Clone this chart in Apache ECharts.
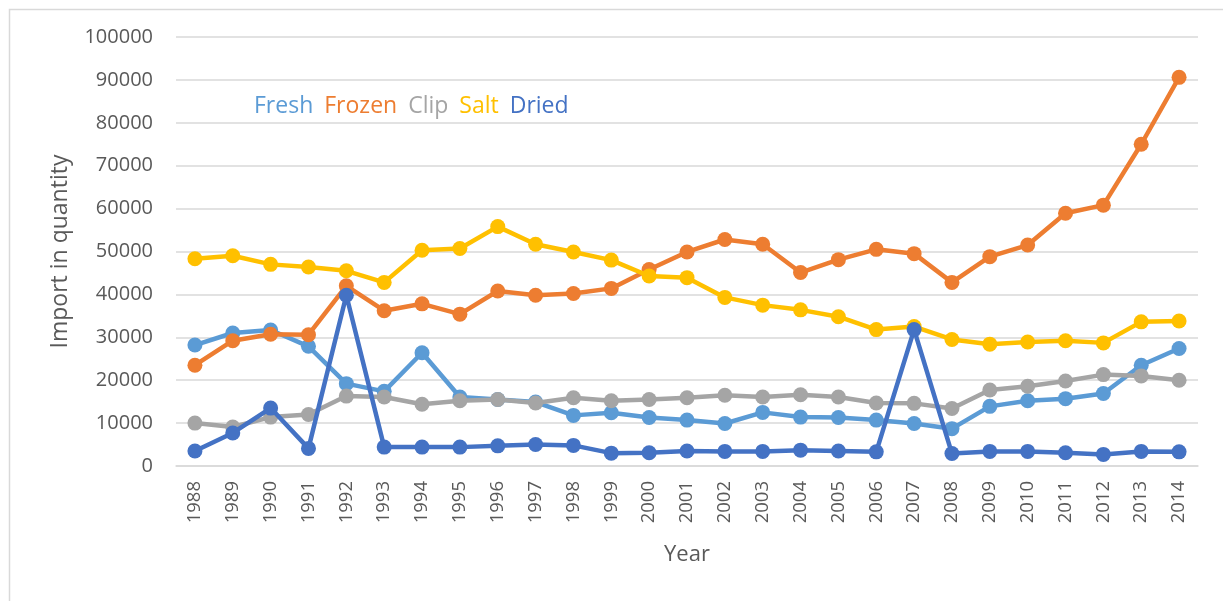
<!DOCTYPE html>
<html>
<head>
<meta charset="utf-8">
<script src="https://cdn.jsdelivr.net/npm/echarts@6/dist/echarts.min.js"></script>
<style>html,body{margin:0;padding:0;background:#fff;}#c{width:1223px;height:601px;}</style>
</head>
<body>
<div id="c"></div>
<script>
const years = ['1988','1989','1990','1991','1992','1993','1994','1995','1996','1997','1998','1999','2000','2001','2002','2003','2004','2005','2006','2007','2008','2009','2010','2011','2012','2013','2014'];
const fresh  = [28200,31000,31700,27900,19200,17400,26400,16100,15500,14900,11800,12400,11300,10700,9900,12500,11400,11300,10700,9900,8700,13900,15200,15700,16900,23500,27400];
const frozen = [23500,29200,30700,30600,42000,36200,37800,35400,40800,39800,40200,41400,45800,49900,52800,51700,45100,48100,50500,49500,42800,48800,51500,58900,60800,75000,90600];
const clip   = [10000,9100,11400,12000,16300,16100,14400,15200,15500,14700,15900,15200,15500,15900,16500,16100,16600,16100,14700,14600,13400,17700,18600,19800,21300,21000,20000];
const salt   = [48300,49000,47000,46400,45500,42800,50300,50700,55800,51700,49900,48000,44300,43900,39300,37500,36400,34800,31800,32500,29500,28400,28900,29200,28700,33600,33800];
const dried  = [3500,7700,13500,4100,39800,4400,4400,4400,4700,5000,4800,3000,3100,3500,3400,3400,3700,3500,3300,31800,2900,3400,3400,3100,2700,3400,3300];
const yTicks = [0,10000,20000,30000,40000,50000,60000,70000,80000,90000,100000];

const names = ['Fresh','Frozen','Clip','Salt','Dried'];
const colors = ['#5B9BD5','#ED7D31','#A5A5A5','#FFC000','#4472C4'];
const datas = [fresh, frozen, clip, salt, dried];
const FONT = 'Open Sans';

const chart = echarts.init(document.getElementById('c'), null, {renderer:'canvas'});
chart.setOption({
  animation: false,
  backgroundColor: '#fff',
  textStyle: {fontFamily: FONT},
  graphic: [{
    type: 'rect', left: 7, top: 7, z: -10,
    shape: {width: 1300, height: 700},
    style: {fill: 'none', stroke: '#D9D9D9', lineWidth: 1.5}
  }],
  legend: {
    left: 244, top: 90,
    icon: 'none', itemWidth: 0, itemHeight: 0, itemGap: 6,
    textStyle: {fontFamily: FONT, fontSize: 23, padding: 0},
    data: names.map((n, i) => ({name: n, textStyle: {color: colors[i]}}))
  },
  grid: {left: 176, right: 25, top: 37, bottom: 135, containLabel: false},
  xAxis: {
    type: 'category', data: years, boundaryGap: true,
    name: 'Year', nameLocation: 'middle', nameGap: 78,
    nameTextStyle: {fontFamily: FONT, fontSize: 22, color: '#595959'},
    axisLine: {show: true, lineStyle: {color: '#D9D9D9', width: 1.5}},
    axisTick: {show: false},
    axisLabel: {rotate: 90, interval: 0, fontFamily: FONT, fontSize: 18.5, color: '#595959', margin: 15},
    splitLine: {show: false}
  },
  yAxis: {
    type: 'value', min: 0, max: 100000, interval: 10000,
    name: 'Import in quantity', nameLocation: 'middle', nameGap: 104, nameRotate: 90,
    nameTextStyle: {fontFamily: FONT, fontSize: 23, color: '#595959'},
    axisLine: {show: false}, axisTick: {show: false},
    axisLabel: {fontFamily: FONT, fontSize: 20, color: '#595959', margin: 23,
      formatter: v => yTicks.indexOf(v) >= 0 ? String(v) : ''},
    splitLine: {show: true, lineStyle: {color: '#D9D9D9', width: 1.5}}
  },
  series: names.map((n, i) => ({
    name: n, type: 'line', data: datas[i],
    symbol: 'circle', symbolSize: 15,
    lineStyle: {color: colors[i], width: 4.5},
    itemStyle: {color: colors[i]},
    z: 2 + i
  }))
});
</script>
</body>
</html>
